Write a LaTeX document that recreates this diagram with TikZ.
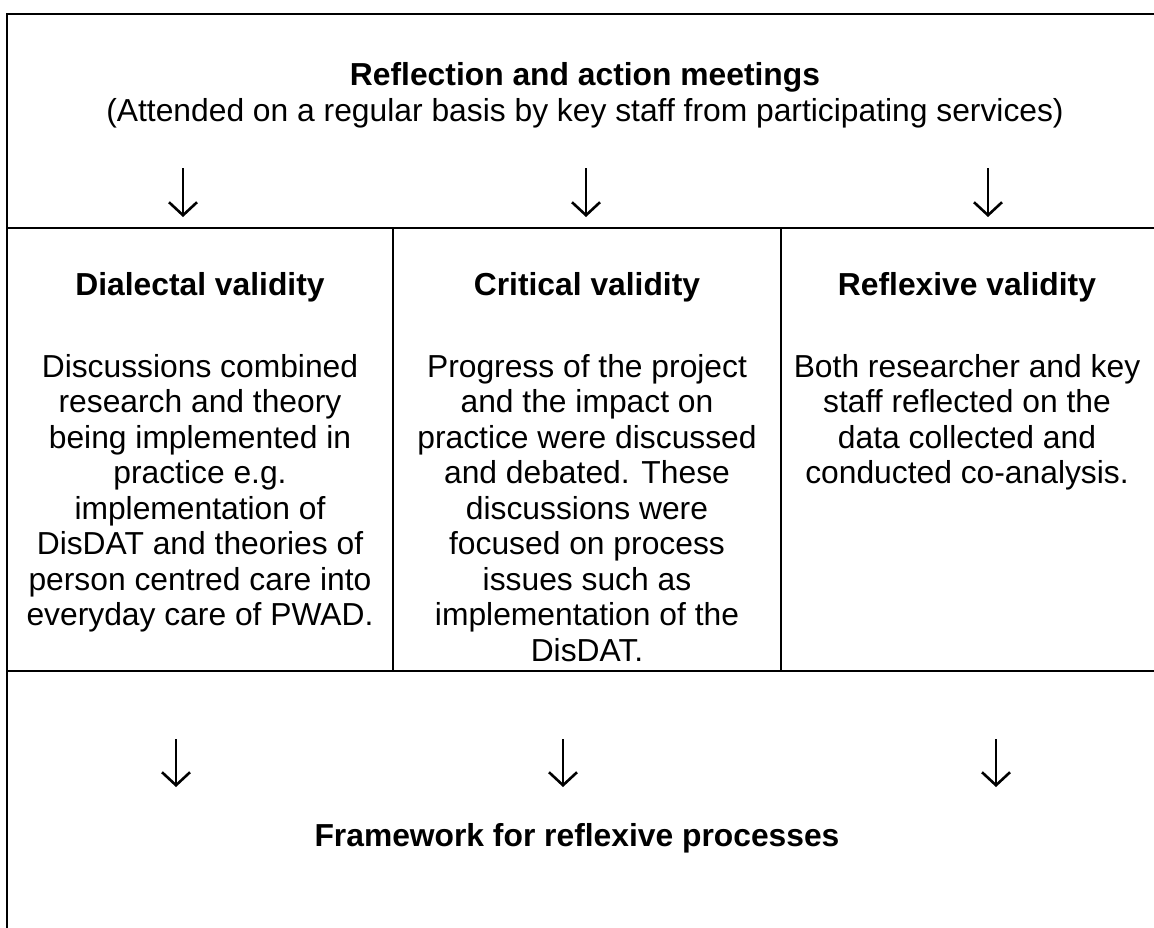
\documentclass[tikz,border=0pt]{standalone}
\usepackage{fontspec}
\setmainfont{Liberation Sans}
\usetikzlibrary{arrows.meta}
\begin{document}
\begin{tikzpicture}[x=1pt,y=-1pt,
  rule/.style={line width=2.2pt, line cap=rect},
  downarrow/.style={line width=2.6pt, -{Straight Barb[length=13pt,width=28pt]}},
  txt/.style={inner sep=0pt, align=center, anchor=base,
    font=\fontsize{31.8}{35.5}\selectfont},
  head/.style={txt, font=\fontsize{31.8}{35.5}\selectfont\bfseries}]
\useasboundingbox (0,0) rectangle (1154,927);
\fill[white] (0,0) rectangle (1154,927);
% frame lines
\coordinate (tl) at (7,14);
\coordinate (tr) at (1160,14);
\coordinate (bl) at (7,930);
\coordinate (ml) at (7,228);
\coordinate (mr) at (1160,228);
\coordinate (ll) at (7,671);
\coordinate (lr) at (1160,671);
\coordinate (d1t) at (393,228);
\coordinate (d1b) at (393,671);
\coordinate (d2t) at (781,228);
\coordinate (d2b) at (781,671);
\draw[rule] (tr) -- (tl) -- (bl);
\draw[rule] (ml) -- (mr);
\draw[rule] (ll) -- (lr);
\draw[rule] (d1t) -- (d1b);
\draw[rule] (d2t) -- (d2b);
% top section
\node[head] (title) at (585,85) {Reflection and action meetings};
\node[txt] (sub) at (585,121) {(Attended on a regular basis by key staff from participating services)};
% top arrows
\coordinate (a1s) at (183,168); \coordinate (a1e) at (183,217);
\coordinate (a2s) at (586,168); \coordinate (a2e) at (586,217);
\coordinate (a3s) at (988,168); \coordinate (a3e) at (988,217);
\draw[downarrow] (a1s) -- (a1e);
\draw[downarrow] (a2s) -- (a2e);
\draw[downarrow] (a3s) -- (a3e);
% columns (base anchor = baseline of the last line)
\node[head] (h1) at (200,295) {Dialectal validity};
\node[head] (h2) at (587,295) {Critical validity};
\node[head] (h3) at (967,295) {Reflexive validity};
\node[txt] (b1) at (200,625.5) {Discussions combined\\research and theory\\being implemented in\\practice e.g.\\implementation of\\DisDAT and theories of\\person centred care into\\everyday care of PWAD.};
\node[txt] (b2) at (587,661) {Progress of the project\\and the impact on\\practice were discussed\\and debated. These\\discussions were\\focused on process\\issues such as\\implementation of the\\DisDAT.};
\node[txt] (b3) at (967,483.5) {Both researcher and key\\staff reflected on the\\data collected and\\conducted co-analysis.};
% bottom arrows
\coordinate (c1s) at (176,739); \coordinate (c1e) at (176,787);
\coordinate (c2s) at (563,739); \coordinate (c2e) at (563,787);
\coordinate (c3s) at (996,739); \coordinate (c3e) at (996,787);
\draw[downarrow] (c1s) -- (c1e);
\draw[downarrow] (c2s) -- (c2e);
\draw[downarrow] (c3s) -- (c3e);
\node[head] (foot) at (577,846) {Framework for reflexive processes};
\end{tikzpicture}
\end{document}
